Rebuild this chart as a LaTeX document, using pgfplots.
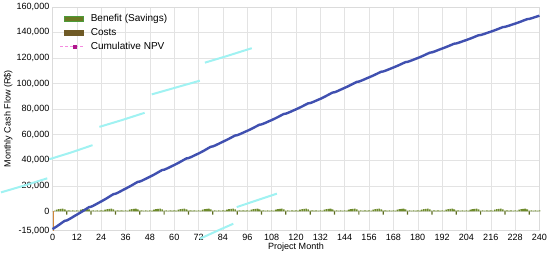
\documentclass[border=0pt]{standalone}
\usepackage{fontspec}
\setmainfont{Liberation Sans}
\usepackage{pgfplots}
\usepackage{pgfplotstable}
\pgfplotsset{compat=1.18}
\definecolor{npvblue}{HTML}{4050B0}
\definecolor{benbar}{HTML}{6E8B2C}
\definecolor{benswatch}{HTML}{6B7A22}
\definecolor{benedge}{HTML}{4C9A3A}
\definecolor{costbar}{HTML}{5C6B1E}
\definecolor{costswatch}{HTML}{6F5A26}
\definecolor{costorange}{HTML}{D2873A}
\definecolor{glitchcyan}{HTML}{A0F2F2}
\definecolor{npvpink}{HTML}{F58CE0}
\definecolor{npvmark}{HTML}{B0178C}

% month, benefit, cumulative NPV (one project year per line)
\pgfplotstableread[row sep=\\]{
m ben npv \\
0 0 -13800 \\
1 700 -12780 \\ 2 1400 -11770 \\ 3 1800 -10690 \\ 4 2000 -9560 \\ 5 2100 -8430 \\ 6 1700 -7360 \\ 7 700 -7020 \\ 8 800 -6230 \\ 9 700 -5330 \\ 10 800 -4360 \\ 11 700 -3400 \\ 12 800 -2500 \\
13 700 -1570 \\ 14 1400 -650 \\ 15 1800 330 \\ 16 2000 1360 \\ 17 2100 2390 \\ 18 1700 3370 \\ 19 700 3680 \\ 20 800 4400 \\ 21 700 5230 \\ 22 800 6100 \\ 23 700 6980 \\ 24 800 7800 \\
25 700 8700 \\ 26 1400 9600 \\ 27 1800 10550 \\ 28 2000 11550 \\ 29 2100 12550 \\ 30 1700 13500 \\ 31 700 13800 \\ 32 800 14500 \\ 33 700 15300 \\ 34 800 16150 \\ 35 700 17000 \\ 36 800 17800 \\
37 700 18640 \\ 38 1400 19470 \\ 39 1800 20360 \\ 40 2000 21290 \\ 41 2100 22220 \\ 42 1700 23100 \\ 43 700 23380 \\ 44 800 24030 \\ 45 700 24780 \\ 46 800 25570 \\ 47 700 26360 \\ 48 800 27100 \\
49 700 27930 \\ 50 1400 28760 \\ 51 1800 29630 \\ 52 2000 30550 \\ 53 2100 31470 \\ 54 1700 32340 \\ 55 700 32620 \\ 56 800 33260 \\ 57 700 34000 \\ 58 800 34780 \\ 59 700 35560 \\ 60 800 36300 \\
61 700 37110 \\ 62 1400 37920 \\ 63 1800 38780 \\ 64 2000 39680 \\ 65 2100 40580 \\ 66 1700 41430 \\ 67 700 41700 \\ 68 800 42330 \\ 69 700 43050 \\ 70 800 43820 \\ 71 700 44580 \\ 72 800 45300 \\
73 700 46130 \\ 74 1400 46960 \\ 75 1800 47830 \\ 76 2000 48750 \\ 77 2100 49670 \\ 78 1700 50540 \\ 79 700 50820 \\ 80 800 51460 \\ 81 700 52200 \\ 82 800 52980 \\ 83 700 53760 \\ 84 800 54500 \\
85 700 55270 \\ 86 1400 56030 \\ 87 1800 56840 \\ 88 2000 57690 \\ 89 2100 58540 \\ 90 1700 59350 \\ 91 700 59600 \\ 92 800 60200 \\ 93 700 60880 \\ 94 800 61600 \\ 95 700 62320 \\ 96 800 63000 \\
97 700 63760 \\ 98 1400 64510 \\ 99 1800 65310 \\ 100 2000 66150 \\ 101 2100 66990 \\ 102 1700 67790 \\ 103 700 68040 \\ 104 800 68630 \\ 105 700 69300 \\ 106 800 70010 \\ 107 700 70730 \\ 108 800 71400 \\
109 700 72160 \\ 110 1400 72910 \\ 111 1800 73710 \\ 112 2000 74550 \\ 113 2100 75390 \\ 114 1700 76190 \\ 115 700 76440 \\ 116 800 77030 \\ 117 700 77700 \\ 118 800 78410 \\ 119 700 79130 \\ 120 800 79800 \\
121 700 80540 \\ 122 1400 81280 \\ 123 1800 82060 \\ 124 2000 82880 \\ 125 2100 83700 \\ 126 1700 84470 \\ 127 700 84720 \\ 128 800 85290 \\ 129 700 85950 \\ 130 800 86650 \\ 131 700 87340 \\ 132 800 88000 \\
133 700 88770 \\ 134 1400 89550 \\ 135 1800 90370 \\ 136 2000 91230 \\ 137 2100 92090 \\ 138 1700 92900 \\ 139 700 93160 \\ 140 800 93760 \\ 141 700 94450 \\ 142 800 95180 \\ 143 700 95910 \\ 144 800 96600 \\
145 700 97340 \\ 146 1400 98080 \\ 147 1800 98860 \\ 148 2000 99680 \\ 149 2100 100500 \\ 150 1700 101270 \\ 151 700 101520 \\ 152 800 102090 \\ 153 700 102750 \\ 154 800 103450 \\ 155 700 104140 \\ 156 800 104800 \\
157 700 105490 \\ 158 1400 106190 \\ 159 1800 106920 \\ 160 2000 107690 \\ 161 2100 108460 \\ 162 1700 109190 \\ 163 700 109420 \\ 164 800 109960 \\ 165 700 110580 \\ 166 800 111230 \\ 167 700 111880 \\ 168 800 112500 \\
169 700 113170 \\ 170 1400 113830 \\ 171 1800 114540 \\ 172 2000 115280 \\ 173 2100 116020 \\ 174 1700 116720 \\ 175 700 116940 \\ 176 800 117460 \\ 177 700 118050 \\ 178 800 118680 \\ 179 700 119310 \\ 180 800 119900 \\
181 700 120570 \\ 182 1400 121230 \\ 183 1800 121940 \\ 184 2000 122680 \\ 185 2100 123420 \\ 186 1700 124120 \\ 187 700 124340 \\ 188 800 124860 \\ 189 700 125450 \\ 190 800 126080 \\ 191 700 126710 \\ 192 800 127300 \\
193 700 127900 \\ 194 1400 128510 \\ 195 1800 129140 \\ 196 2000 129810 \\ 197 2100 130480 \\ 198 1700 131120 \\ 199 700 131320 \\ 200 800 131790 \\ 201 700 132330 \\ 202 800 132900 \\ 203 700 133460 \\ 204 800 134000 \\
205 700 134590 \\ 206 1400 135170 \\ 207 1800 135790 \\ 208 2000 136440 \\ 209 2100 137090 \\ 210 1700 137710 \\ 211 700 137900 \\ 212 800 138360 \\ 213 700 138880 \\ 214 800 139430 \\ 215 700 139980 \\ 216 800 140500 \\
217 700 141070 \\ 218 1400 141630 \\ 219 1800 142230 \\ 220 2000 142860 \\ 221 2100 143490 \\ 222 1700 144090 \\ 223 700 144280 \\ 224 800 144720 \\ 225 700 145230 \\ 226 800 145760 \\ 227 700 146300 \\ 228 800 146800 \\
229 700 147360 \\ 230 1400 147920 \\ 231 1800 148510 \\ 232 2000 149130 \\ 233 2100 149750 \\ 234 1700 150330 \\ 235 700 150520 \\ 236 800 150950 \\ 237 700 151450 \\ 238 800 151980 \\ 239 700 152500 \\ 240 800 153000 \\
}\cashflow

\begin{document}
\fontsize{9}{11}\selectfont
\begin{tikzpicture}
\begin{axis}[
  scale only axis, width=485pt, height=223pt,
  xmin=0, xmax=240, ymin=-15000, ymax=160000,
  xtick={0,12,...,240},
  ytick={-15000,0,20000,40000,60000,80000,100000,120000,140000,160000},
  scaled y ticks=false,
  /pgf/number format/assume math mode=true,
  yticklabel style={/pgf/number format/.cd, fixed, 1000 sep={,}},
  tick label style={font=\fontsize{9}{10}\selectfont},
  major tick length=0pt,
  grid=major, grid style={black!11},
  axis line style={black!14},
  xlabel={Project Month}, ylabel={Monthly Cash Flow (R\$)},
  xlabel style={yshift=3pt}, ylabel style={yshift=-2pt},
  clip=false,
  legend style={at={(0.008,0.985)}, anchor=north west, draw=none, fill=none,
    font=\fontsize{10}{11}\selectfont, row sep=1.5pt},
  legend cell align=left,
]
% stray light-cyan line pieces
\addplot[glitchcyan, line width=2pt, forget plot] coordinates {(-25.4,14900) (-14,20200) (-2.6,25900)};
\addplot[glitchcyan, line width=2pt, forget plot] coordinates {(-1.6,40800) (9,46000) (19.7,51800)};
\addplot[glitchcyan, line width=2pt, forget plot] coordinates {(23.1,66100) (34,71300) (45.4,77100)};
\addplot[glitchcyan, line width=2pt, forget plot] coordinates {(48.9,91500) (60,96500) (72.6,102200)};
\addplot[glitchcyan, line width=2pt, forget plot] coordinates {(75.1,116300) (86,121500) (98.2,127600)};
\addplot[glitchcyan, line width=2pt, forget plot] coordinates {(90.8,3400) (100,8300) (110.6,13900)};
\addplot[glitchcyan, line width=2pt, forget plot] coordinates {(72.6,-21400) (80,-16000) (89.1,-9600)};
% benefit and cost bars
\addplot[ybar, bar width=0.8, bar shift=0pt, fill=benbar, draw=none, forget plot]
  table[x=m, y=ben] {\cashflow};
\addplot[ybar, bar width=0.6, bar shift=0pt, fill=costbar, draw=none, forget plot] coordinates {
  (7,-2500) (19,-2500) (31,-2500) (43,-2500) (55,-2500) (67,-2500) (79,-2500)
  (91,-2500) (103,-2500) (115,-2500) (127,-2500) (139,-2500) (151,-2500) (163,-2500)
  (175,-2500) (187,-2500) (199,-2500) (211,-2500) (223,-2500) (235,-2500)};
\addplot[ybar, bar width=0.7, bar shift=0pt, fill=costorange, draw=none, forget plot] coordinates {(0.4,-15000)};
% cumulative NPV
\addplot[npvblue, line width=2.4pt, forget plot] table[x=m, y=npv] {\cashflow};

\addlegendimage{legend image code/.code={
  \fill[benswatch] (0pt,-2.8pt) rectangle (19pt,2.8pt);
  \draw[benedge, line width=0.4pt] (0pt,-2.8pt) rectangle (19pt,2.8pt);}}
\addlegendentry{\hspace*{5pt}Benefit (Savings)}
\addlegendimage{legend image code/.code={
  \fill[costswatch] (0pt,-2.8pt) rectangle (19pt,2.8pt);}}
\addlegendentry{\hspace*{5pt}Costs}
\addlegendimage{legend image code/.code={
  \draw[npvpink, densely dashed, line width=1pt] (-4pt,0pt) -- (19pt,0pt);
  \fill[npvmark] (9pt,-1.6pt) rectangle (12pt,1.6pt);}}
\addlegendentry{\hspace*{5pt}Cumulative NPV}
\end{axis}
\end{tikzpicture}
\end{document}
